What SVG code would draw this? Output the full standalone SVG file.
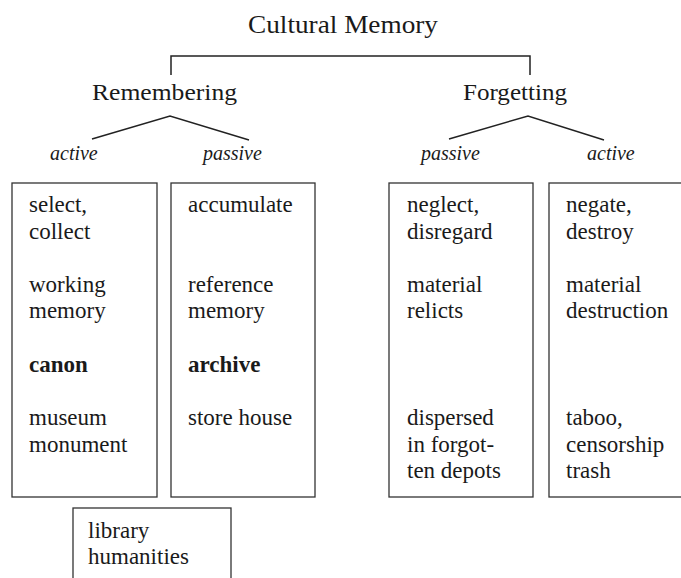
<svg xmlns="http://www.w3.org/2000/svg" width="681" height="578" viewBox="0 0 681 578">
<rect width="681" height="578" fill="#fff"/>
<g id="connectors" fill="none" stroke="#222" stroke-width="1.5">
<polyline points="171,75 171,56 530,56 530,75"/>
<polyline points="92,139 170,116 249,140"/>
<polyline points="449,139 528,116 604,140"/>
</g>
<g id="root"><text font-family="'Liberation Serif'" font-size="26" fill="#1a1a1a" x="343" y="33" text-anchor="middle" textLength="190" lengthAdjust="spacingAndGlyphs">Cultural Memory</text></g>
<g id="remembering"><text font-family="'Liberation Serif'" font-size="24" fill="#1a1a1a" x="92" y="100" textLength="145" lengthAdjust="spacingAndGlyphs">Remembering</text></g>
<g id="forgetting"><text font-family="'Liberation Serif'" font-size="24" fill="#1a1a1a" x="463" y="100" textLength="104" lengthAdjust="spacingAndGlyphs">Forgetting</text></g>
<g id="rem-active"><text font-family="'Liberation Serif'" font-size="20" font-style="italic" fill="#1a1a1a" x="50" y="160">active</text></g>
<g id="rem-passive"><text font-family="'Liberation Serif'" font-size="20" font-style="italic" fill="#1a1a1a" x="203" y="160">passive</text></g>
<g id="forg-passive"><text font-family="'Liberation Serif'" font-size="20" font-style="italic" fill="#1a1a1a" x="421" y="160">passive</text></g>
<g id="forg-active"><text font-family="'Liberation Serif'" font-size="20" font-style="italic" fill="#1a1a1a" x="587" y="160">active</text></g>
<g id="box-rem-active">
<rect x="12" y="183" width="145" height="314" fill="#fff" stroke="#333" stroke-width="1.3"/>
<text font-family="'Liberation Serif'" font-size="23" fill="#1a1a1a" x="29" y="212">select,</text>
<text font-family="'Liberation Serif'" font-size="23" fill="#1a1a1a" x="29" y="239">collect</text>
<text font-family="'Liberation Serif'" font-size="23" fill="#1a1a1a" x="29" y="292">working</text>
<text font-family="'Liberation Serif'" font-size="23" fill="#1a1a1a" x="29" y="318">memory</text>
<text font-family="'Liberation Serif'" font-size="23" font-weight="bold" fill="#1a1a1a" x="29" y="372">canon</text>
<text font-family="'Liberation Serif'" font-size="23" fill="#1a1a1a" x="29" y="425">museum</text>
<text font-family="'Liberation Serif'" font-size="23" fill="#1a1a1a" x="29" y="452">monument</text>
</g>
<g id="box-rem-passive">
<rect x="171" y="183" width="144" height="314" fill="#fff" stroke="#333" stroke-width="1.3"/>
<text font-family="'Liberation Serif'" font-size="23" fill="#1a1a1a" x="188" y="212">accumulate</text>
<text font-family="'Liberation Serif'" font-size="23" fill="#1a1a1a" x="188" y="292">reference</text>
<text font-family="'Liberation Serif'" font-size="23" fill="#1a1a1a" x="188" y="318">memory</text>
<text font-family="'Liberation Serif'" font-size="23" font-weight="bold" fill="#1a1a1a" x="188" y="372">archive</text>
<text font-family="'Liberation Serif'" font-size="23" fill="#1a1a1a" x="188" y="425">store house</text>
</g>
<g id="box-forg-passive">
<rect x="389" y="183" width="144" height="314" fill="#fff" stroke="#333" stroke-width="1.3"/>
<text font-family="'Liberation Serif'" font-size="23" fill="#1a1a1a" x="407" y="212">neglect,</text>
<text font-family="'Liberation Serif'" font-size="23" fill="#1a1a1a" x="407" y="239">disregard</text>
<text font-family="'Liberation Serif'" font-size="23" fill="#1a1a1a" x="407" y="292">material</text>
<text font-family="'Liberation Serif'" font-size="23" fill="#1a1a1a" x="407" y="318">relicts</text>
<text font-family="'Liberation Serif'" font-size="23" fill="#1a1a1a" x="407" y="425">dispersed</text>
<text font-family="'Liberation Serif'" font-size="23" fill="#1a1a1a" x="407" y="452">in forgot-</text>
<text font-family="'Liberation Serif'" font-size="23" fill="#1a1a1a" x="407" y="478">ten depots</text>
</g>
<g id="box-forg-active">
<rect x="549" y="183" width="145" height="314" fill="#fff" stroke="#333" stroke-width="1.3"/>
<text font-family="'Liberation Serif'" font-size="23" fill="#1a1a1a" x="566" y="212">negate,</text>
<text font-family="'Liberation Serif'" font-size="23" fill="#1a1a1a" x="566" y="239">destroy</text>
<text font-family="'Liberation Serif'" font-size="23" fill="#1a1a1a" x="566" y="292">material</text>
<text font-family="'Liberation Serif'" font-size="23" fill="#1a1a1a" x="566" y="318">destruction</text>
<text font-family="'Liberation Serif'" font-size="23" fill="#1a1a1a" x="566" y="425">taboo,</text>
<text font-family="'Liberation Serif'" font-size="23" fill="#1a1a1a" x="566" y="452">censorship</text>
<text font-family="'Liberation Serif'" font-size="23" fill="#1a1a1a" x="566" y="478">trash</text>
</g>
<g id="box-library">
<rect x="73" y="508" width="158" height="80" fill="#fff" stroke="#333" stroke-width="1.3"/>
<text font-family="'Liberation Serif'" font-size="23" fill="#1a1a1a" x="88" y="538">library</text>
<text font-family="'Liberation Serif'" font-size="23" fill="#1a1a1a" x="88" y="564">humanities</text>
</g>
</svg>
